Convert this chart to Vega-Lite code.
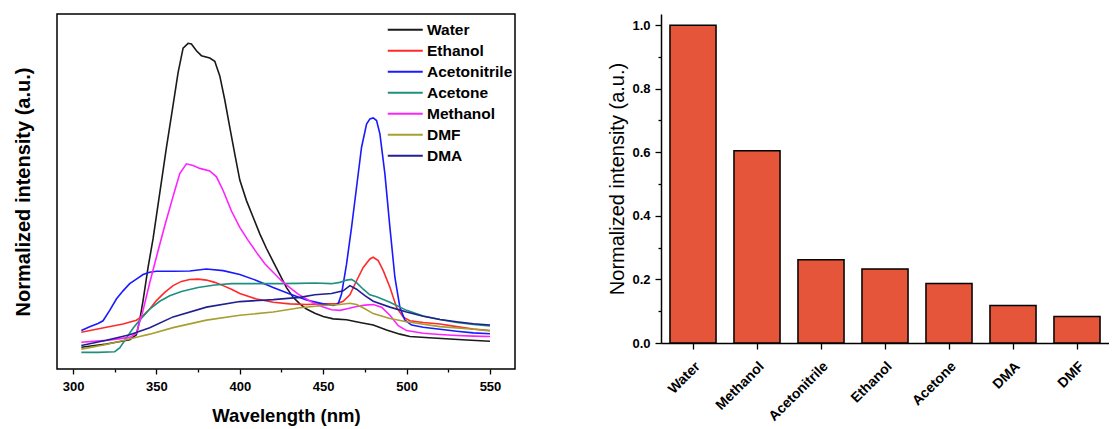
{
  "$schema": "https://vega.github.io/schema/vega-lite/v6.json",
  "background": "white",
  "padding": {"left": 12, "top": 13, "right": 0, "bottom": 0},
  "spacing": 91,
  "config": {"font": "Liberation Sans", "view": {"stroke": null}},
  "hconcat": [
    {
      "width": 458,
      "height": 355,
      "view": {"stroke": "black", "strokeWidth": 1.5},
      "data": {"values": [
        {"solvent":"Water","wavelength":305,"intensity":0.067},{"solvent":"Water","wavelength":320,"intensity":0.077},{"solvent":"Water","wavelength":334,"intensity":0.090},{"solvent":"Water","wavelength":338,"intensity":0.105},{"solvent":"Water","wavelength":340,"intensity":0.150},{"solvent":"Water","wavelength":342,"intensity":0.210},{"solvent":"Water","wavelength":345,"intensity":0.312},{"solvent":"Water","wavelength":348,"intensity":0.400},{"solvent":"Water","wavelength":352,"intensity":0.540},{"solvent":"Water","wavelength":356,"intensity":0.680},{"solvent":"Water","wavelength":360,"intensity":0.810},{"solvent":"Water","wavelength":363,"intensity":0.910},{"solvent":"Water","wavelength":366,"intensity":0.985},{"solvent":"Water","wavelength":369,"intensity":1.0},{"solvent":"Water","wavelength":371,"intensity":0.998},{"solvent":"Water","wavelength":374,"intensity":0.977},{"solvent":"Water","wavelength":377,"intensity":0.962},{"solvent":"Water","wavelength":382,"intensity":0.955},{"solvent":"Water","wavelength":385,"intensity":0.945},{"solvent":"Water","wavelength":388,"intensity":0.900},{"solvent":"Water","wavelength":391,"intensity":0.826},{"solvent":"Water","wavelength":394,"intensity":0.742},{"solvent":"Water","wavelength":397,"intensity":0.660},{"solvent":"Water","wavelength":400,"intensity":0.580},{"solvent":"Water","wavelength":404,"intensity":0.517},{"solvent":"Water","wavelength":408,"intensity":0.466},{"solvent":"Water","wavelength":412,"intensity":0.415},{"solvent":"Water","wavelength":416,"intensity":0.370},{"solvent":"Water","wavelength":420,"intensity":0.330},{"solvent":"Water","wavelength":424,"intensity":0.290},{"solvent":"Water","wavelength":428,"intensity":0.250},{"solvent":"Water","wavelength":432,"intensity":0.220},{"solvent":"Water","wavelength":436,"intensity":0.200},{"solvent":"Water","wavelength":440,"intensity":0.184},{"solvent":"Water","wavelength":445,"intensity":0.171},{"solvent":"Water","wavelength":450,"intensity":0.161},{"solvent":"Water","wavelength":456,"intensity":0.154},{"solvent":"Water","wavelength":464,"intensity":0.151},{"solvent":"Water","wavelength":472,"intensity":0.143},{"solvent":"Water","wavelength":480,"intensity":0.135},{"solvent":"Water","wavelength":488,"intensity":0.120},{"solvent":"Water","wavelength":496,"intensity":0.107},{"solvent":"Water","wavelength":502,"intensity":0.100},{"solvent":"Water","wavelength":516,"intensity":0.095},{"solvent":"Water","wavelength":536,"intensity":0.089},{"solvent":"Water","wavelength":550,"intensity":0.085},
        {"solvent":"Ethanol","wavelength":305,"intensity":0.113},{"solvent":"Ethanol","wavelength":320,"intensity":0.128},{"solvent":"Ethanol","wavelength":330,"intensity":0.138},{"solvent":"Ethanol","wavelength":338,"intensity":0.150},{"solvent":"Ethanol","wavelength":342,"intensity":0.164},{"solvent":"Ethanol","wavelength":346,"intensity":0.184},{"solvent":"Ethanol","wavelength":350,"intensity":0.210},{"solvent":"Ethanol","wavelength":355,"intensity":0.235},{"solvent":"Ethanol","wavelength":360,"intensity":0.256},{"solvent":"Ethanol","wavelength":365,"intensity":0.269},{"solvent":"Ethanol","wavelength":370,"intensity":0.275},{"solvent":"Ethanol","wavelength":375,"intensity":0.276},{"solvent":"Ethanol","wavelength":380,"intensity":0.273},{"solvent":"Ethanol","wavelength":385,"intensity":0.266},{"solvent":"Ethanol","wavelength":390,"intensity":0.256},{"solvent":"Ethanol","wavelength":395,"intensity":0.245},{"solvent":"Ethanol","wavelength":400,"intensity":0.232},{"solvent":"Ethanol","wavelength":410,"intensity":0.215},{"solvent":"Ethanol","wavelength":420,"intensity":0.205},{"solvent":"Ethanol","wavelength":430,"intensity":0.200},{"solvent":"Ethanol","wavelength":440,"intensity":0.198},{"solvent":"Ethanol","wavelength":450,"intensity":0.200},{"solvent":"Ethanol","wavelength":458,"intensity":0.200},{"solvent":"Ethanol","wavelength":462,"intensity":0.208},{"solvent":"Ethanol","wavelength":466,"intensity":0.228},{"solvent":"Ethanol","wavelength":470,"intensity":0.271},{"solvent":"Ethanol","wavelength":474,"intensity":0.312},{"solvent":"Ethanol","wavelength":478,"intensity":0.338},{"solvent":"Ethanol","wavelength":480,"intensity":0.343},{"solvent":"Ethanol","wavelength":483,"intensity":0.333},{"solvent":"Ethanol","wavelength":486,"intensity":0.302},{"solvent":"Ethanol","wavelength":490,"intensity":0.251},{"solvent":"Ethanol","wavelength":494,"intensity":0.189},{"solvent":"Ethanol","wavelength":498,"intensity":0.159},{"solvent":"Ethanol","wavelength":502,"intensity":0.148},{"solvent":"Ethanol","wavelength":510,"intensity":0.143},{"solvent":"Ethanol","wavelength":520,"intensity":0.138},{"solvent":"Ethanol","wavelength":530,"intensity":0.130},{"solvent":"Ethanol","wavelength":540,"intensity":0.123},{"solvent":"Ethanol","wavelength":550,"intensity":0.118},
        {"solvent":"Acetonitrile","wavelength":305,"intensity":0.118},{"solvent":"Acetonitrile","wavelength":310,"intensity":0.130},{"solvent":"Acetonitrile","wavelength":315,"intensity":0.140},{"solvent":"Acetonitrile","wavelength":318,"intensity":0.148},{"solvent":"Acetonitrile","wavelength":322,"intensity":0.180},{"solvent":"Acetonitrile","wavelength":326,"intensity":0.215},{"solvent":"Acetonitrile","wavelength":330,"intensity":0.240},{"solvent":"Acetonitrile","wavelength":334,"intensity":0.262},{"solvent":"Acetonitrile","wavelength":338,"intensity":0.276},{"solvent":"Acetonitrile","wavelength":342,"intensity":0.290},{"solvent":"Acetonitrile","wavelength":346,"intensity":0.297},{"solvent":"Acetonitrile","wavelength":350,"intensity":0.300},{"solvent":"Acetonitrile","wavelength":360,"intensity":0.300},{"solvent":"Acetonitrile","wavelength":370,"intensity":0.301},{"solvent":"Acetonitrile","wavelength":380,"intensity":0.307},{"solvent":"Acetonitrile","wavelength":390,"intensity":0.302},{"solvent":"Acetonitrile","wavelength":400,"intensity":0.290},{"solvent":"Acetonitrile","wavelength":410,"intensity":0.272},{"solvent":"Acetonitrile","wavelength":420,"intensity":0.250},{"solvent":"Acetonitrile","wavelength":430,"intensity":0.230},{"solvent":"Acetonitrile","wavelength":440,"intensity":0.212},{"solvent":"Acetonitrile","wavelength":450,"intensity":0.200},{"solvent":"Acetonitrile","wavelength":456,"intensity":0.195},{"solvent":"Acetonitrile","wavelength":459,"intensity":0.200},{"solvent":"Acetonitrile","wavelength":461,"intensity":0.230},{"solvent":"Acetonitrile","wavelength":464,"intensity":0.322},{"solvent":"Acetonitrile","wavelength":467,"intensity":0.435},{"solvent":"Acetonitrile","wavelength":470,"intensity":0.558},{"solvent":"Acetonitrile","wavelength":473,"intensity":0.681},{"solvent":"Acetonitrile","wavelength":476,"intensity":0.752},{"solvent":"Acetonitrile","wavelength":478,"intensity":0.768},{"solvent":"Acetonitrile","wavelength":480,"intensity":0.771},{"solvent":"Acetonitrile","wavelength":482,"intensity":0.763},{"solvent":"Acetonitrile","wavelength":484,"intensity":0.722},{"solvent":"Acetonitrile","wavelength":487,"intensity":0.599},{"solvent":"Acetonitrile","wavelength":490,"intensity":0.435},{"solvent":"Acetonitrile","wavelength":493,"intensity":0.281},{"solvent":"Acetonitrile","wavelength":496,"intensity":0.189},{"solvent":"Acetonitrile","wavelength":499,"intensity":0.150},{"solvent":"Acetonitrile","wavelength":503,"intensity":0.135},{"solvent":"Acetonitrile","wavelength":510,"intensity":0.128},{"solvent":"Acetonitrile","wavelength":520,"intensity":0.122},{"solvent":"Acetonitrile","wavelength":530,"intensity":0.116},{"solvent":"Acetonitrile","wavelength":540,"intensity":0.111},{"solvent":"Acetonitrile","wavelength":550,"intensity":0.108},
        {"solvent":"Acetone","wavelength":305,"intensity":0.051},{"solvent":"Acetone","wavelength":315,"intensity":0.051},{"solvent":"Acetone","wavelength":325,"intensity":0.053},{"solvent":"Acetone","wavelength":328,"intensity":0.065},{"solvent":"Acetone","wavelength":332,"intensity":0.095},{"solvent":"Acetone","wavelength":336,"intensity":0.125},{"solvent":"Acetone","wavelength":340,"intensity":0.150},{"solvent":"Acetone","wavelength":346,"intensity":0.184},{"solvent":"Acetone","wavelength":352,"intensity":0.208},{"solvent":"Acetone","wavelength":358,"intensity":0.225},{"solvent":"Acetone","wavelength":365,"intensity":0.238},{"solvent":"Acetone","wavelength":375,"intensity":0.250},{"solvent":"Acetone","wavelength":385,"intensity":0.258},{"solvent":"Acetone","wavelength":395,"intensity":0.262},{"solvent":"Acetone","wavelength":405,"intensity":0.262},{"solvent":"Acetone","wavelength":415,"intensity":0.262},{"solvent":"Acetone","wavelength":425,"intensity":0.262},{"solvent":"Acetone","wavelength":435,"intensity":0.263},{"solvent":"Acetone","wavelength":445,"intensity":0.264},{"solvent":"Acetone","wavelength":455,"intensity":0.262},{"solvent":"Acetone","wavelength":460,"intensity":0.266},{"solvent":"Acetone","wavelength":464,"intensity":0.273},{"solvent":"Acetone","wavelength":467,"intensity":0.275},{"solvent":"Acetone","wavelength":470,"intensity":0.265},{"solvent":"Acetone","wavelength":474,"intensity":0.245},{"solvent":"Acetone","wavelength":478,"intensity":0.228},{"solvent":"Acetone","wavelength":482,"intensity":0.222},{"solvent":"Acetone","wavelength":490,"intensity":0.205},{"solvent":"Acetone","wavelength":500,"intensity":0.180},{"solvent":"Acetone","wavelength":510,"intensity":0.163},{"solvent":"Acetone","wavelength":520,"intensity":0.152},{"solvent":"Acetone","wavelength":530,"intensity":0.143},{"solvent":"Acetone","wavelength":540,"intensity":0.137},{"solvent":"Acetone","wavelength":550,"intensity":0.132},
        {"solvent":"Methanol","wavelength":305,"intensity":0.082},{"solvent":"Methanol","wavelength":320,"intensity":0.088},{"solvent":"Methanol","wavelength":334,"intensity":0.097},{"solvent":"Methanol","wavelength":338,"intensity":0.110},{"solvent":"Methanol","wavelength":342,"intensity":0.180},{"solvent":"Methanol","wavelength":346,"intensity":0.265},{"solvent":"Methanol","wavelength":351,"intensity":0.363},{"solvent":"Methanol","wavelength":355,"intensity":0.440},{"solvent":"Methanol","wavelength":360,"intensity":0.530},{"solvent":"Methanol","wavelength":364,"intensity":0.600},{"solvent":"Methanol","wavelength":368,"intensity":0.630},{"solvent":"Methanol","wavelength":372,"intensity":0.625},{"solvent":"Methanol","wavelength":376,"intensity":0.616},{"solvent":"Methanol","wavelength":382,"intensity":0.608},{"solvent":"Methanol","wavelength":386,"intensity":0.590},{"solvent":"Methanol","wavelength":390,"intensity":0.548},{"solvent":"Methanol","wavelength":395,"intensity":0.485},{"solvent":"Methanol","wavelength":400,"intensity":0.435},{"solvent":"Methanol","wavelength":405,"intensity":0.395},{"solvent":"Methanol","wavelength":410,"intensity":0.358},{"solvent":"Methanol","wavelength":415,"intensity":0.323},{"solvent":"Methanol","wavelength":420,"intensity":0.297},{"solvent":"Methanol","wavelength":425,"intensity":0.271},{"solvent":"Methanol","wavelength":430,"intensity":0.250},{"solvent":"Methanol","wavelength":435,"intensity":0.230},{"solvent":"Methanol","wavelength":440,"intensity":0.215},{"solvent":"Methanol","wavelength":445,"intensity":0.200},{"solvent":"Methanol","wavelength":450,"intensity":0.190},{"solvent":"Methanol","wavelength":455,"intensity":0.182},{"solvent":"Methanol","wavelength":460,"intensity":0.180},{"solvent":"Methanol","wavelength":465,"intensity":0.186},{"solvent":"Methanol","wavelength":470,"intensity":0.192},{"solvent":"Methanol","wavelength":475,"intensity":0.196},{"solvent":"Methanol","wavelength":480,"intensity":0.198},{"solvent":"Methanol","wavelength":485,"intensity":0.190},{"solvent":"Methanol","wavelength":490,"intensity":0.165},{"solvent":"Methanol","wavelength":495,"intensity":0.133},{"solvent":"Methanol","wavelength":500,"intensity":0.118},{"solvent":"Methanol","wavelength":510,"intensity":0.110},{"solvent":"Methanol","wavelength":520,"intensity":0.106},{"solvent":"Methanol","wavelength":530,"intensity":0.103},{"solvent":"Methanol","wavelength":540,"intensity":0.101},{"solvent":"Methanol","wavelength":550,"intensity":0.100},
        {"solvent":"DMF","wavelength":305,"intensity":0.061},{"solvent":"DMF","wavelength":320,"intensity":0.075},{"solvent":"DMF","wavelength":340,"intensity":0.100},{"solvent":"DMF","wavelength":346,"intensity":0.107},{"solvent":"DMF","wavelength":360,"intensity":0.127},{"solvent":"DMF","wavelength":380,"intensity":0.150},{"solvent":"DMF","wavelength":400,"intensity":0.165},{"solvent":"DMF","wavelength":420,"intensity":0.175},{"solvent":"DMF","wavelength":436,"intensity":0.188},{"solvent":"DMF","wavelength":450,"intensity":0.195},{"solvent":"DMF","wavelength":460,"intensity":0.198},{"solvent":"DMF","wavelength":466,"intensity":0.202},{"solvent":"DMF","wavelength":470,"intensity":0.198},{"solvent":"DMF","wavelength":475,"intensity":0.185},{"solvent":"DMF","wavelength":480,"intensity":0.170},{"solvent":"DMF","wavelength":490,"intensity":0.155},{"solvent":"DMF","wavelength":500,"intensity":0.145},{"solvent":"DMF","wavelength":520,"intensity":0.130},{"solvent":"DMF","wavelength":540,"intensity":0.122},{"solvent":"DMF","wavelength":550,"intensity":0.117},
        {"solvent":"DMA","wavelength":305,"intensity":0.072},{"solvent":"DMA","wavelength":320,"intensity":0.088},{"solvent":"DMA","wavelength":334,"intensity":0.105},{"solvent":"DMA","wavelength":346,"intensity":0.127},{"solvent":"DMA","wavelength":360,"intensity":0.160},{"solvent":"DMA","wavelength":380,"intensity":0.190},{"solvent":"DMA","wavelength":400,"intensity":0.207},{"solvent":"DMA","wavelength":420,"intensity":0.213},{"solvent":"DMA","wavelength":436,"intensity":0.220},{"solvent":"DMA","wavelength":445,"intensity":0.228},{"solvent":"DMA","wavelength":455,"intensity":0.232},{"solvent":"DMA","wavelength":462,"intensity":0.240},{"solvent":"DMA","wavelength":466,"intensity":0.256},{"solvent":"DMA","wavelength":470,"intensity":0.245},{"solvent":"DMA","wavelength":475,"intensity":0.225},{"solvent":"DMA","wavelength":480,"intensity":0.208},{"solvent":"DMA","wavelength":490,"intensity":0.190},{"solvent":"DMA","wavelength":500,"intensity":0.175},{"solvent":"DMA","wavelength":510,"intensity":0.162},{"solvent":"DMA","wavelength":520,"intensity":0.152},{"solvent":"DMA","wavelength":530,"intensity":0.145},{"solvent":"DMA","wavelength":540,"intensity":0.139},{"solvent":"DMA","wavelength":550,"intensity":0.135}
      ]},
      "mark": {"type": "line", "strokeWidth": 1.6},
      "encoding": {
        "x": {
          "field": "wavelength", "type": "quantitative",
          "scale": {"domain": [290.4, 565], "nice": false, "zero": false},
          "axis": {
            "title": "Wavelength (nm)", "titleFontSize": 18.5, "titleFontWeight": "bold", "titleColor": "black", "titlePadding": 13,
            "values": [300, 325, 350, 375, 400, 425, 450, 475, 500, 525, 550],
            "labelExpr": "datum.value % 50 == 0 ? datum.label : ''",
            "labelFontSize": 13, "labelFontWeight": "bold", "labelColor": "black", "labelPadding": 6,
            "tickSize": {"condition": {"test": "datum.value % 50 == 0", "value": 5}, "value": 3},
            "tickColor": "black", "tickWidth": 1.3, "domain": false, "grid": false
          }
        },
        "y": {
          "field": "intensity", "type": "quantitative",
          "scale": {"domain": [0, 1.09], "nice": false},
          "axis": {
            "title": "Normalized intensity (a.u.)", "titleFontSize": 20, "titleFontWeight": "bold", "titleColor": "black", "titlePadding": 24,
            "labels": false, "ticks": false, "domain": false, "grid": false
          }
        },
        "color": {
          "field": "solvent", "type": "nominal",
          "scale": {
            "domain": ["Water", "Ethanol", "Acetonitrile", "Acetone", "Methanol", "DMF", "DMA"],
            "range": ["#1a1a1a", "#ff2a2a", "#1a1aff", "#1f8f80", "#ff22ff", "#a6a030", "#202090"]
          },
          "legend": {
            "title": null, "orient": "none", "legendX": 340.5, "legendY": 8,
            "symbolType": "M-3.5,0H3.5", "symbolSize": 100, "symbolStrokeWidth": 2,
            "labelFontSize": 15.5, "labelFontWeight": "bold", "labelColor": "black", "labelOffset": 14,
            "rowPadding": 4
          }
        }
      }
    },
    {
      "width": 448,
      "height": 329,
      "data": {"values": [
        {"solvent": "Water", "intensity": 1.0},
        {"solvent": "Methanol", "intensity": 0.605},
        {"solvent": "Acetonitrile", "intensity": 0.262},
        {"solvent": "Ethanol", "intensity": 0.233},
        {"solvent": "Acetone", "intensity": 0.187},
        {"solvent": "DMA", "intensity": 0.118},
        {"solvent": "DMF", "intensity": 0.083}
      ]},
      "mark": {"type": "bar", "fill": "#e4553a", "stroke": "black", "strokeWidth": 1.5},
      "encoding": {
        "x": {
          "field": "solvent", "type": "nominal", "sort": null,
          "scale": {"paddingInner": 0.28, "paddingOuter": 0.14},
          "axis": {
            "title": null, "labelAngle": -45, "labelFontSize": 14, "labelFontWeight": "bold", "labelColor": "black",
            "labelPadding": 10, "tickSize": 6, "tickColor": "black", "tickWidth": 1.3,
            "domainColor": "black", "domainWidth": 1.5, "grid": false
          }
        },
        "y": {
          "field": "intensity", "type": "quantitative",
          "scale": {"domain": [0, 1.035], "nice": false},
          "axis": {
            "title": "Normalized intensity (a.u.)", "titleFontSize": 20, "titleFontWeight": "normal", "titleColor": "black", "titlePadding": 4,
            "values": [0, 0.1, 0.2, 0.3, 0.4, 0.5, 0.6, 0.7, 0.8, 0.9, 1.0],
            "labelExpr": "round(datum.value * 10) % 2 == 0 ? format(datum.value, '.1f') : ''",
            "labelFontSize": 13, "labelFontWeight": "bold", "labelColor": "black", "labelPadding": 5,
            "tickSize": {"condition": {"test": "round(datum.value * 10) % 2 == 0", "value": 6}, "value": 3},
            "tickColor": "black", "tickWidth": 1.3, "domainColor": "black", "domainWidth": 1.5, "grid": false
          }
        }
      }
    }
  ]
}
